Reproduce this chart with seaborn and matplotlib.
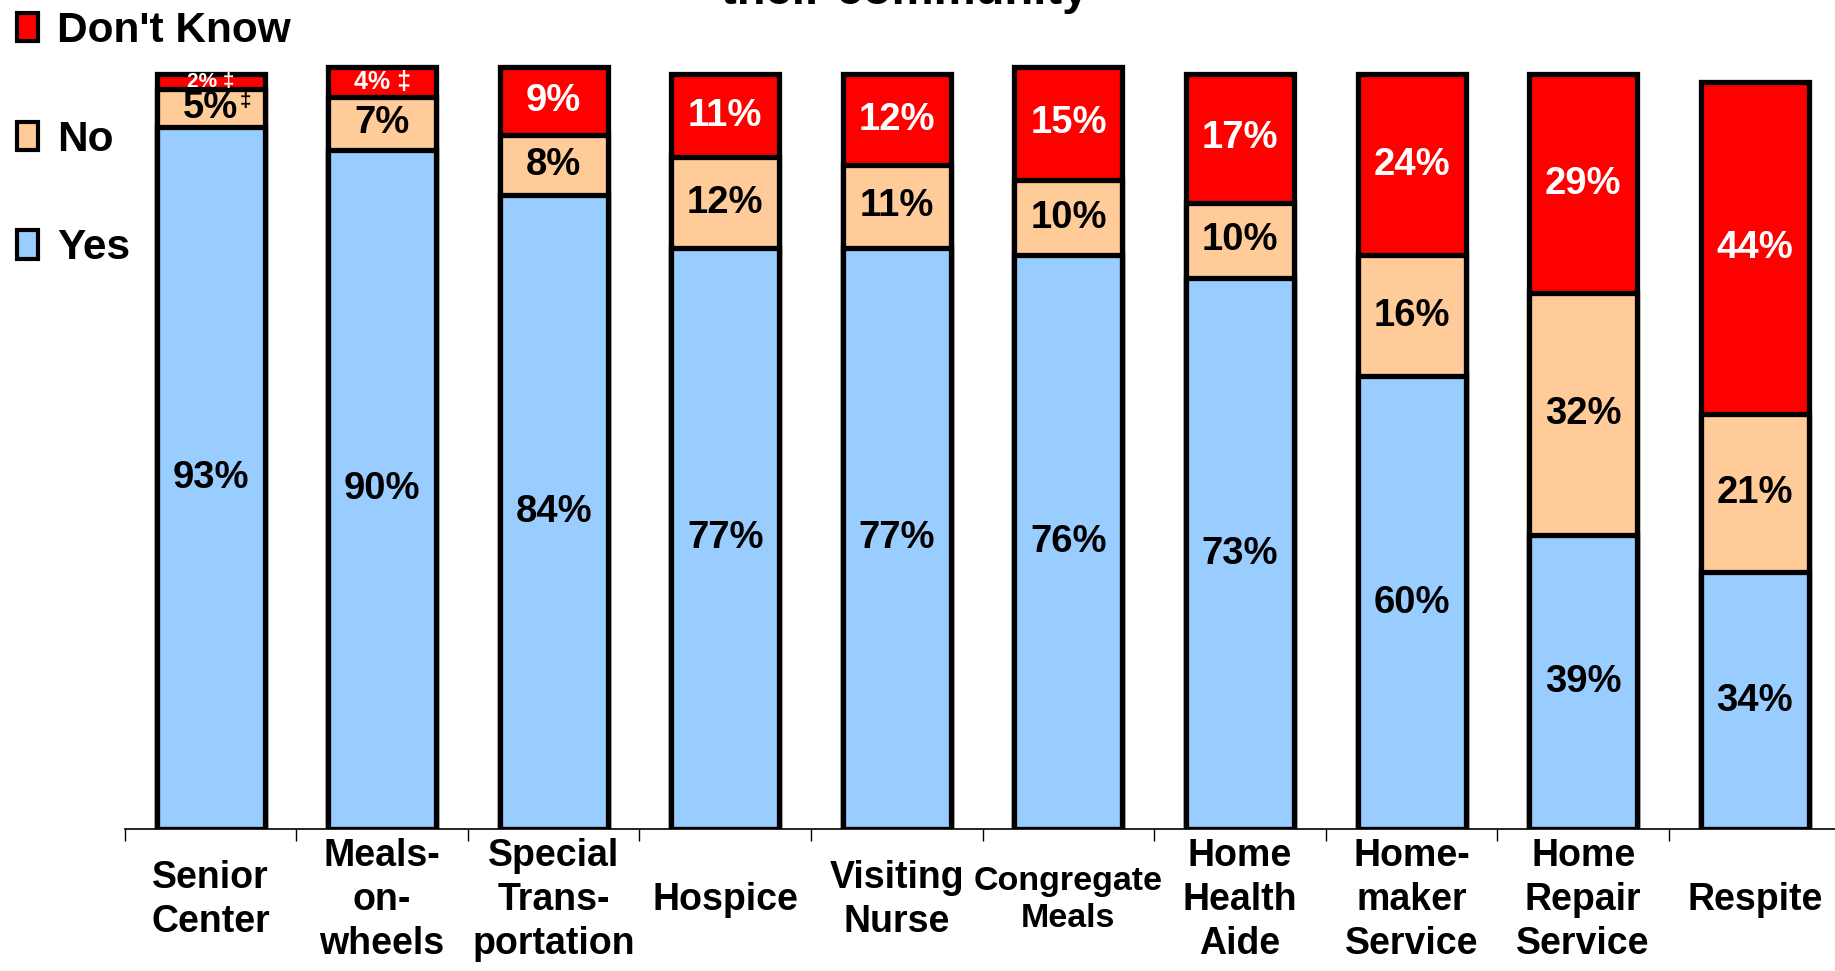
import matplotlib
matplotlib.use("Agg")
import matplotlib.pyplot as plt
import seaborn as sns
import pandas as pd
import numpy as np
from matplotlib.patches import Patch

sns.set_theme(style="white")
FONT = ["Liberation Sans", "DejaVu Sans"]
plt.rcParams["font.family"] = FONT
plt.rcParams["font.weight"] = "bold"
plt.rcParams["text.color"] = "black"

# Data
categories = ["Senior\nCenter", "Meals-\non-\nwheels", "Special\nTrans-\nportation", "Hospice",
              "Visiting\nNurse", "Congregate\nMeals", "Home\nHealth\nAide", "Home-\nmaker\nService",
              "Home\nRepair\nService", "Respite"]
yes = [93, 90, 84, 77, 77, 76, 73, 60, 39, 34]
no = [5, 7, 8, 12, 11, 10, 10, 16, 32, 21]
dont_know = [2, 4, 9, 11, 12, 15, 17, 24, 29, 44]
# footnote flags (‡) for small-sample estimates
no_flag = [True, False, False, False, False, False, False, False, False, False]
dk_flag = [True, True, False, False, False, False, False, False, False, False]

YES_COLOR = "#99CCFF"
NO_COLOR = "#FFCC99"
DK_COLOR = "#FF0000"

df = pd.DataFrame({"service": categories, "yes": yes, "no": no, "dk": dont_know})
df["yes_no"] = df["yes"] + df["no"]
df["total"] = df["yes_no"] + df["dk"]

fig = plt.figure(figsize=(18.35, 9.71), dpi=100)
ax = fig.add_axes([0.068, 0.1462, 0.935, 0.855])

bar_kw = dict(width=0.63, edgecolor="black", linewidth=3.8, ax=ax)
sns.barplot(data=df, x="service", y="total", color=DK_COLOR, saturation=1, **bar_kw)
sns.barplot(data=df, x="service", y="yes_no", color=NO_COLOR, saturation=1, **bar_kw)
sns.barplot(data=df, x="service", y="yes", color=YES_COLOR, saturation=1, **bar_kw)

ax.set_xlim(-0.5, 9.5)
ax.set_ylim(0, 110)
ax.set_xlabel("")
ax.set_ylabel("")
ax.set_yticks([])
for side in ["left", "right", "top"]:
    ax.spines[side].set_visible(False)
ax.spines["bottom"].set_color("black")
ax.spines["bottom"].set_linewidth(1.2)

VAL_SIZE = 27.5

# value labels
for i in range(len(categories)):
    ax.text(i, yes[i] / 2, f"{yes[i]}%", ha="center", va="center", fontsize=VAL_SIZE,
            fontweight="bold", color="black")
    y_no = yes[i] + no[i] / 2
    ax.text(i, y_no, f"{no[i]}%", ha="center", va="center", fontsize=VAL_SIZE,
            fontweight="bold", color="black")
    if no_flag[i]:
        ax.annotate("‡", (i, y_no), xytext=(21, 5), textcoords="offset points",
                    ha="left", va="center", fontsize=15, fontweight="bold", color="black")
    y_dk = yes[i] + no[i] + dont_know[i] / 2
    if dk_flag[i]:
        ax.text(i, y_dk, f"{dont_know[i]}% ‡", ha="center", va="center",
                fontsize=15 if dont_know[i] < 3 else 18, fontweight="bold", color="white")
    else:
        ax.text(i, y_dk, f"{dont_know[i]}%", ha="center", va="center", fontsize=VAL_SIZE,
                fontweight="bold", color="white")

# category axis: labels centred under bars, ticks at the boundaries
ax.set_xticks(np.arange(-0.5, 10, 1), minor=True)
ax.tick_params(axis="x", which="minor", length=8.5, width=1.0, color="black", direction="out",
               bottom=True)
ax.tick_params(axis="x", which="major", length=0, pad=51)
for lbl in ax.get_xticklabels():
    lbl.set_va("center")
    lbl.set_fontsize(24.5 if lbl.get_text().startswith("Congregate") else 27)
    lbl.set_fontweight("bold")
    lbl.set_linespacing(1.28)
    lbl.set_color("black")

# legend
handles = [Patch(facecolor=DK_COLOR, edgecolor="black", linewidth=3, label="Don't Know"),
           Patch(facecolor=NO_COLOR, edgecolor="black", linewidth=3, label="No"),
           Patch(facecolor=YES_COLOR, edgecolor="black", linewidth=3, label="Yes")]
leg = fig.legend(handles=handles, loc="upper left", bbox_to_anchor=(0.0, 1.006), frameon=False,
                 prop={"family": FONT, "weight": "bold", "size": 30.5},
                 handlelength=0.5, handleheight=0.65, handletextpad=0.45, labelspacing=1.62,
                 borderaxespad=0.0)
for t in leg.get_texts():
    t.set_color("black")

fig.text(0.493, 0.9959, "their community", ha="center", va="baseline", fontsize=34,
         fontweight="bold", color="black")

fig.savefig("out.png", dpi=100)
